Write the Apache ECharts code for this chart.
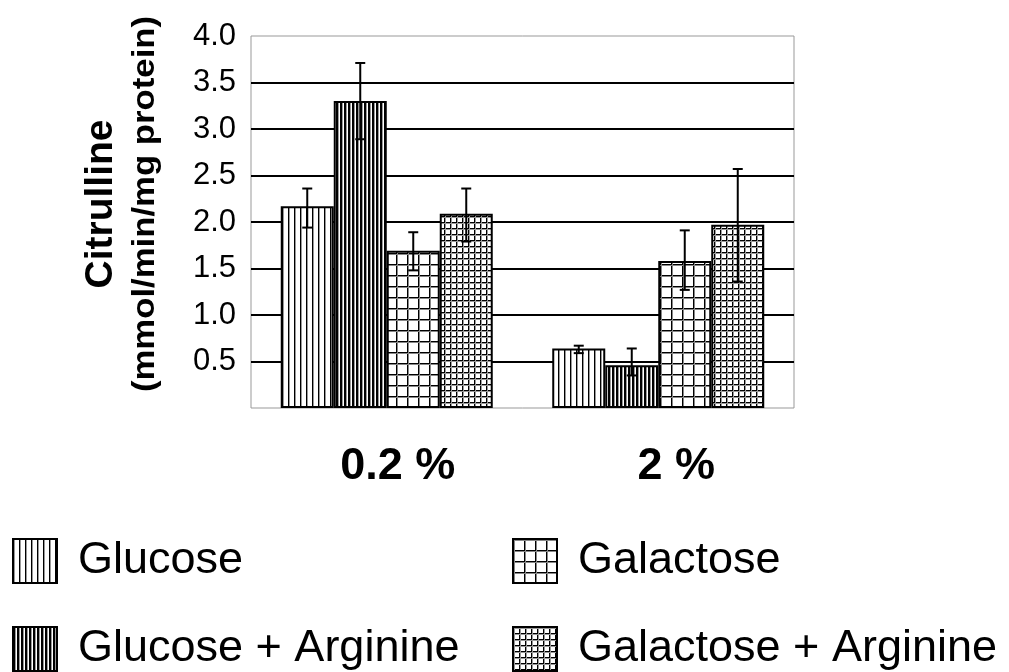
<!DOCTYPE html>
<html>
<head>
<meta charset="utf-8">
<script src="https://cdn.jsdelivr.net/npm/echarts@6/dist/echarts.min.js"></script>
<style>html,body{margin:0;padding:0;background:#fff;}#chart{width:1009px;height:672px;}</style>
</head>
<body>
<div id="chart"></div>
<script>
// ---- data ----
const categories = ['0.2 %', '2 %'];
const seriesNames = ['Glucose', 'Glucose + Arginine', 'Galactose', 'Galactose + Arginine'];
const glucose      = [2.17, 0.64];
const glucoseArg   = [3.30, 0.46];
const galactose    = [1.69, 1.58];
const galactoseArg = [2.09, 1.97];
// error bar [low, high] per category
const glucoseErr      = [[1.94, 2.36], [0.59, 0.67]];
const glucoseArgErr   = [[2.89, 3.71], [0.35, 0.64]];
const galactoseErr    = [[1.48, 1.89], [1.27, 1.91]];
const galactoseArgErr = [[1.79, 2.36], [1.36, 2.57]];
const yMin = 0, yMax = 4, yInterval = 0.5;

const values = [glucose, glucoseArg, galactose, galactoseArg];
const errors = [glucoseErr, glucoseArgErr, galactoseErr, galactoseArgErr];

// ---- patterns ----
function makePattern(w, h, draw) {
  const c = document.createElement('canvas');
  c.width = w; c.height = h;
  const ctx = c.getContext('2d');
  ctx.fillStyle = '#fff';
  ctx.fillRect(0, 0, w, h);
  draw(ctx, w, h);
  return { image: c, repeat: 'repeat' };
}
const patterns = [
  makePattern(6, 6, (ctx, w, h) => { ctx.fillStyle = '#000'; ctx.fillRect(0, 0, 1, h); ctx.fillStyle = '#999'; ctx.fillRect(1, 0, 1, h); }),
  makePattern(4, 4, (ctx, w, h) => { ctx.fillStyle = '#000'; ctx.fillRect(0, 0, 2, h); ctx.fillStyle = '#999'; ctx.fillRect(2, 0, 1, h); }),
  makePattern(11, 11, (ctx, w, h) => { ctx.fillStyle = '#000'; ctx.fillRect(0, 0, 1, h); ctx.fillRect(0, 0, w, 1); ctx.fillStyle = '#888'; ctx.fillRect(1, 0, 1, h); ctx.fillRect(0, 1, w, 1); }),
  makePattern(6, 6, (ctx, w, h) => { ctx.fillStyle = '#000'; ctx.fillRect(0, 0, 1, h); ctx.fillRect(0, 0, w, 1); ctx.fillStyle = '#999'; ctx.fillRect(1, 0, 1, h); ctx.fillRect(0, 1, w, 1); })
];

const FONT = '"Liberation Sans", Arial, Helvetica, sans-serif';
const BAR_W = 53;

const series = [];
seriesNames.forEach((name, i) => {
  series.push({
    name: name,
    type: 'bar',
    barWidth: BAR_W,
    barGap: '0%',
    data: values[i],
    itemStyle: { color: patterns[i], borderColor: '#000', borderWidth: 2 },
    z: 2
  });
});
seriesNames.forEach((name, i) => {
  const offset = (i - 1.5) * BAR_W;
  series.push({
    type: 'custom',
    name: name + ' error',
    z: 5,
    data: errors[i].map((e, c) => [c, e[0], e[1]]),
    encode: { x: 0, y: [1, 2] },
    renderItem: function (params, api) {
      const c = api.value(0);
      const lo = api.coord([c, api.value(1)]);
      const hi = api.coord([c, api.value(2)]);
      const x = lo[0] + offset;
      const cap = 5;
      const st = { stroke: '#000', lineWidth: 2 };
      return {
        type: 'group',
        children: [
          { type: 'line', shape: { x1: x, y1: lo[1], x2: x, y2: hi[1] }, style: st },
          { type: 'line', shape: { x1: x - cap, y1: hi[1], x2: x + cap, y2: hi[1] }, style: st },
          { type: 'line', shape: { x1: x - cap, y1: lo[1], x2: x + cap, y2: lo[1] }, style: st }
        ]
      };
    }
  });
});

const legendCommon = {
  orient: 'horizontal',
  icon: 'rect',
  padding: 0,
  itemWidth: 44,
  itemHeight: 44,
  itemStyle: { borderColor: '#000', borderWidth: 2 },
  textStyle: { fontSize: 45, color: '#000', fontFamily: FONT, lineHeight: 44, padding: [0, 0, 0, 16] },
  selectedMode: false
};
const legendPos = [[12, 538], [12, 626], [512, 538], [512, 626]];

const option = {
  backgroundColor: '#fff',
  animation: false,
  grid: { left: 251, right: 215, top: 36, bottom: 264, show: true, borderColor: '#999', borderWidth: 1, containLabel: false },
  legend: seriesNames.map((n, i) => Object.assign({}, legendCommon, { left: legendPos[i][0], top: legendPos[i][1], data: [n] })),
  xAxis: {
    type: 'category',
    data: categories,
    axisLine: { show: false },
    axisTick: { show: false },
    axisLabel: {
      fontSize: 45, fontWeight: 'bold', color: '#000', fontFamily: FONT, margin: 36,
      formatter: (v, idx) => (idx === 0 ? '{a|' + v + '}' : '{b|' + v + '}'),
      rich: {
        a: { fontSize: 45, fontWeight: 'bold', color: '#000', fontFamily: FONT, padding: [0, 0, 0, 22] },
        b: { fontSize: 45, fontWeight: 'bold', color: '#000', fontFamily: FONT, padding: [0, 0, 0, 36] }
      }
    }
  },
  yAxis: {
    type: 'value',
    min: yMin, max: yMax, interval: yInterval,
    axisLine: { show: false },
    axisTick: { show: false },
    splitLine: { show: true, showMinLine: false, showMaxLine: false, lineStyle: { color: '#000', width: 2 } },
    axisLabel: {
      fontSize: 31, color: '#000', fontFamily: FONT, margin: 15,
      formatter: v => (v === 0 ? '' : v.toFixed(1))
    }
  },
  graphic: [
    { type: 'text', x: 101, y: 204, rotation: Math.PI / 2, z: 10,
      style: { text: 'Citrulline', font: 'bold 39px ' + FONT, fill: '#000', textAlign: 'center', textVerticalAlign: 'middle', verticalAlign: 'middle' } },
    { type: 'text', x: 145, y: 204, rotation: Math.PI / 2, scaleX: 1.12, z: 10,
      style: { text: '(mmol/min/mg protein)', font: 'bold 31px ' + FONT, fill: '#000', textAlign: 'center', textVerticalAlign: 'middle', verticalAlign: 'middle' } }
  ],
  series: series
};

const chart = echarts.init(document.getElementById('chart'), null, { renderer: 'canvas' });
chart.setOption(option);
</script>
</body>
</html>
